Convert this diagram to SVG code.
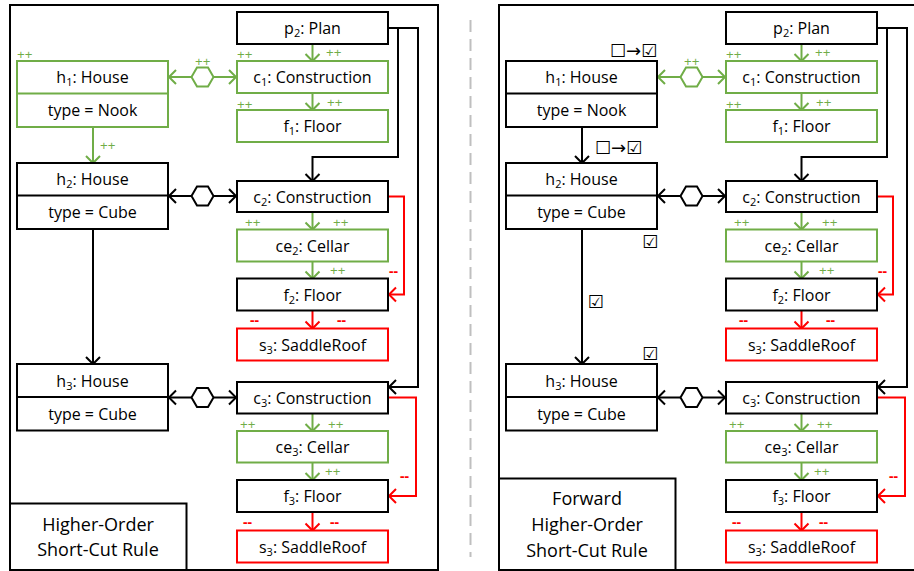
<svg xmlns="http://www.w3.org/2000/svg" width="914" height="571" viewBox="0 0 914 571">
<style>
.frame{fill:#fff;stroke:#000;stroke-width:2}
.bx{fill:#fff;stroke:#000;stroke-width:2}
.bx.g{stroke:#70AD47}
.bx.r{stroke:#FF0000}
.ln{fill:none;stroke:#000;stroke-width:2}
.ln.g{stroke:#70AD47}
.ln.r{stroke:#FF0000}
.hex{fill:#fff;stroke:#000;stroke-width:2}
.hex.g{stroke:#70AD47}
.t{font-family:'Open Sans','Liberation Sans',sans-serif;font-size:16px;fill:#000;text-anchor:middle}
.sub{font-size:11px}
.ttl{font-family:'Open Sans','Liberation Sans',sans-serif;font-size:18px;fill:#000;text-anchor:middle}
.pp{font-family:'Open Sans','Liberation Sans',sans-serif;font-size:13.5px;fill:#70AD47}
.mm{font-family:'Open Sans','Liberation Sans',sans-serif;font-size:14px;font-weight:bold;fill:#FF0000}
.cb{font-family:'DejaVu Sans',sans-serif;font-size:18px;fill:#000;text-anchor:middle}
.sep{stroke:#BFBFBF;stroke-width:2;stroke-dasharray:12 7}
</style>
<defs>
<marker id="ak" viewBox="-9 -9 11 18" markerWidth="11" markerHeight="18" refX="0" refY="0" orient="auto-start-reverse" markerUnits="userSpaceOnUse"><path d="M-7,-7 L0,0 L-7,7" fill="none" stroke="#000" stroke-width="2"/></marker>
<marker id="ag" viewBox="-9 -9 11 18" markerWidth="11" markerHeight="18" refX="0" refY="0" orient="auto-start-reverse" markerUnits="userSpaceOnUse"><path d="M-7,-7 L0,0 L-7,7" fill="none" stroke="#70AD47" stroke-width="2"/></marker>
<marker id="ar" viewBox="-9 -9 11 18" markerWidth="11" markerHeight="18" refX="0" refY="0" orient="auto-start-reverse" markerUnits="userSpaceOnUse"><path d="M-7,-7 L0,0 L-7,7" fill="none" stroke="#FF0000" stroke-width="2"/></marker>
<polygon id="hx" points="-11,0 -5.5,-9.5 5.5,-9.5 11,0 5.5,9.5 -5.5,9.5"/>
</defs>

<rect class="frame" x="10" y="5" width="428" height="565"/>
<rect class="frame" x="499" y="5" width="430" height="565"/>
<line class="sep" x1="470.5" y1="20" x2="470.5" y2="557"/>

<!-- ===== LEFT PANEL ===== -->
<g id="left-connectors">
  <path class="ln g" d="M312.5,44 V61" marker-end="url(#ag)"/>
  <path class="ln g" d="M312.5,93 V110" marker-end="url(#ag)"/>
  <path class="ln" d="M388,28 H398 V157 H312.5 V181" marker-end="url(#ak)"/>
  <path class="ln" d="M388,28 H418 V387 H389" marker-end="url(#ak)"/>
  <path class="ln g" d="M312.5,212 V229.5" marker-end="url(#ag)"/>
  <path class="ln g" d="M312.5,261.5 V278.5" marker-end="url(#ag)"/>
  <path class="ln r" d="M388,196.5 H404 V294.5 H389" marker-end="url(#ar)"/>
  <path class="ln r" d="M312.5,310.5 V328.5" marker-end="url(#ar)"/>
  <path class="ln g" d="M312.5,413.5 V431" marker-end="url(#ag)"/>
  <path class="ln g" d="M312.5,462.5 V480" marker-end="url(#ag)"/>
  <path class="ln r" d="M388,397.5 H416 V496 H389" marker-end="url(#ar)"/>
  <path class="ln r" d="M312.5,512 V530.5" marker-end="url(#ar)"/>
  <path class="ln g" d="M93,127 V163" marker-end="url(#ag)"/>
  <path class="ln" d="M93,229 V364" marker-end="url(#ak)"/>
  <path class="ln g" d="M169,77 H236" marker-start="url(#ag)" marker-end="url(#ag)"/>
  <use href="#hx" class="hex g" x="202.5" y="77"/>
  <path class="ln" d="M169,196 H236" marker-start="url(#ak)" marker-end="url(#ak)"/>
  <use href="#hx" class="hex" x="202.5" y="196"/>
  <path class="ln" d="M169,397.5 H236" marker-start="url(#ak)" marker-end="url(#ak)"/>
  <use href="#hx" class="hex" x="202.5" y="397.5"/>
  <text class="pp" x="17" y="58.5">++</text>
  <text class="pp" x="195" y="66">++</text>
  <text class="pp" x="237" y="58.5">++</text>
  <text class="pp" x="326" y="56.5">++</text>
  <text class="pp" x="237" y="108.5">++</text>
  <text class="pp" x="327" y="106.5">++</text>
  <text class="pp" x="100" y="150">++</text>
  <text class="pp" x="245" y="227">++</text>
  <text class="pp" x="333" y="227">++</text>
  <text class="pp" x="330" y="274.5">++</text>
  <text class="mm" x="389" y="276">--</text>
  <text class="mm" x="250" y="324.5">--</text>
  <text class="mm" x="337" y="324.5">--</text>
  <text class="pp" x="240" y="428.5">++</text>
  <text class="pp" x="328" y="428.5">++</text>
  <text class="pp" x="325" y="475.5">++</text>
  <text class="mm" x="400" y="481">--</text>
  <text class="mm" x="243" y="527">--</text>
  <text class="mm" x="330" y="527">--</text>
</g>

<g id="L-p2"><rect class="bx" x="237" y="12" width="151" height="32"/><text class="t" x="312.5" y="34">p<tspan class="sub" dy="3">2</tspan><tspan dy="-3">: Plan</tspan></text></g>
<g id="L-c1"><rect class="bx g" x="237" y="61" width="151" height="32"/><text class="t" x="312.5" y="83">c<tspan class="sub" dy="3">1</tspan><tspan dy="-3">: Construction</tspan></text></g>
<g id="L-f1"><rect class="bx g" x="237" y="110" width="151" height="32"/><text class="t" x="312.5" y="132">f<tspan class="sub" dy="3">1</tspan><tspan dy="-3">: Floor</tspan></text></g>
<g id="L-h1"><rect class="bx g" x="17" y="61" width="151" height="66"/><line class="ln g" x1="17" y1="93.5" x2="168" y2="93.5"/><text class="t" x="92.5" y="83">h<tspan class="sub" dy="3">1</tspan><tspan dy="-3">: House</tspan></text><text class="t" x="92.5" y="116">type = Nook</text></g>
<g id="L-h2"><rect class="bx" x="17" y="163" width="151" height="66"/><line class="ln" x1="17" y1="195.5" x2="168" y2="195.5"/><text class="t" x="92.5" y="185">h<tspan class="sub" dy="3">2</tspan><tspan dy="-3">: House</tspan></text><text class="t" x="92.5" y="218">type = Cube</text></g>
<g id="L-h3"><rect class="bx" x="17" y="364" width="151" height="66.5"/><line class="ln" x1="17" y1="397" x2="168" y2="397"/><text class="t" x="92.5" y="386.5">h<tspan class="sub" dy="3">3</tspan><tspan dy="-3">: House</tspan></text><text class="t" x="92.5" y="419.5">type = Cube</text></g>
<g id="L-c2"><rect class="bx" x="237" y="181" width="151" height="31"/><text class="t" x="312.5" y="202.5">c<tspan class="sub" dy="3">2</tspan><tspan dy="-3">: Construction</tspan></text></g>
<g id="L-ce2"><rect class="bx g" x="237" y="229.5" width="151" height="32"/><text class="t" x="312.5" y="251.5">ce<tspan class="sub" dy="3">2</tspan><tspan dy="-3">: Cellar</tspan></text></g>
<g id="L-f2"><rect class="bx" x="237" y="278.5" width="151" height="32"/><text class="t" x="312.5" y="300.5">f<tspan class="sub" dy="3">2</tspan><tspan dy="-3">: Floor</tspan></text></g>
<g id="L-s3a"><rect class="bx r" x="237" y="328.5" width="151" height="32"/><text class="t" x="312.5" y="350.5">s<tspan class="sub" dy="3">3</tspan><tspan dy="-3">: SaddleRoof</tspan></text></g>
<g id="L-c3"><rect class="bx" x="237" y="382" width="151" height="31.5"/><text class="t" x="312.5" y="404">c<tspan class="sub" dy="3">3</tspan><tspan dy="-3">: Construction</tspan></text></g>
<g id="L-ce3"><rect class="bx g" x="237" y="431" width="151" height="31.5"/><text class="t" x="312.5" y="453">ce<tspan class="sub" dy="3">3</tspan><tspan dy="-3">: Cellar</tspan></text></g>
<g id="L-f3"><rect class="bx" x="237" y="480" width="151" height="32"/><text class="t" x="312.5" y="502">f<tspan class="sub" dy="3">3</tspan><tspan dy="-3">: Floor</tspan></text></g>
<g id="L-s3b"><rect class="bx r" x="237" y="530.5" width="151" height="32"/><text class="t" x="312.5" y="552.5">s<tspan class="sub" dy="3">3</tspan><tspan dy="-3">: SaddleRoof</tspan></text></g>
<g id="L-title"><rect class="bx" x="10" y="503.5" width="176.5" height="66.5"/><text class="ttl" x="98" y="531">Higher-Order</text><text class="ttl" x="98" y="556">Short-Cut Rule</text></g>

<!-- ===== RIGHT PANEL ===== -->
<g transform="translate(489,0)">
<g id="right-connectors">
  <path class="ln g" d="M312.5,44 V61" marker-end="url(#ag)"/>
  <path class="ln g" d="M312.5,93 V110" marker-end="url(#ag)"/>
  <path class="ln" d="M388,28 H398 V157 H312.5 V181" marker-end="url(#ak)"/>
  <path class="ln" d="M388,28 H418 V387 H389" marker-end="url(#ak)"/>
  <path class="ln g" d="M312.5,212 V229.5" marker-end="url(#ag)"/>
  <path class="ln g" d="M312.5,261.5 V278.5" marker-end="url(#ag)"/>
  <path class="ln r" d="M388,196.5 H404 V294.5 H389" marker-end="url(#ar)"/>
  <path class="ln r" d="M312.5,310.5 V328.5" marker-end="url(#ar)"/>
  <path class="ln g" d="M312.5,413.5 V431" marker-end="url(#ag)"/>
  <path class="ln g" d="M312.5,462.5 V480" marker-end="url(#ag)"/>
  <path class="ln r" d="M388,397.5 H416 V496 H389" marker-end="url(#ar)"/>
  <path class="ln r" d="M312.5,512 V530.5" marker-end="url(#ar)"/>
  <path class="ln" d="M93,127 V163" marker-end="url(#ak)"/>
  <path class="ln" d="M93,229 V364" marker-end="url(#ak)"/>
  <path class="ln g" d="M169,77 H236" marker-start="url(#ag)" marker-end="url(#ag)"/>
  <use href="#hx" class="hex g" x="202.5" y="77"/>
  <path class="ln" d="M169,196 H236" marker-start="url(#ak)" marker-end="url(#ak)"/>
  <use href="#hx" class="hex" x="202.5" y="196"/>
  <path class="ln" d="M169,397.5 H236" marker-start="url(#ak)" marker-end="url(#ak)"/>
  <use href="#hx" class="hex" x="202.5" y="397.5"/>
  <text class="pp" x="195" y="66">++</text>
  <text class="pp" x="237" y="58.5">++</text>
  <text class="pp" x="326" y="56.5">++</text>
  <text class="pp" x="237" y="108.5">++</text>
  <text class="pp" x="327" y="106.5">++</text>
  <text class="pp" x="245" y="227">++</text>
  <text class="pp" x="333" y="227">++</text>
  <text class="pp" x="330" y="274.5">++</text>
  <text class="mm" x="389" y="276">--</text>
  <text class="mm" x="250" y="324.5">--</text>
  <text class="mm" x="337" y="324.5">--</text>
  <text class="pp" x="240" y="428.5">++</text>
  <text class="pp" x="328" y="428.5">++</text>
  <text class="pp" x="325" y="475.5">++</text>
  <text class="mm" x="400" y="481">--</text>
  <text class="mm" x="243" y="527">--</text>
  <text class="mm" x="330" y="527">--</text>
  <text class="cb" x="144.5" y="56.5">☐→☑</text>
  <text class="cb" x="129.5" y="153.5">☐→☑</text>
  <text class="cb" x="161" y="247.5">☑</text>
  <text class="cb" x="106.5" y="308">☑</text>
  <text class="cb" x="161" y="360">☑</text>
</g>

<g id="R-p2"><rect class="bx" x="237" y="12" width="151" height="32"/><text class="t" x="312.5" y="34">p<tspan class="sub" dy="3">2</tspan><tspan dy="-3">: Plan</tspan></text></g>
<g id="R-c1"><rect class="bx g" x="237" y="61" width="151" height="32"/><text class="t" x="312.5" y="83">c<tspan class="sub" dy="3">1</tspan><tspan dy="-3">: Construction</tspan></text></g>
<g id="R-f1"><rect class="bx g" x="237" y="110" width="151" height="32"/><text class="t" x="312.5" y="132">f<tspan class="sub" dy="3">1</tspan><tspan dy="-3">: Floor</tspan></text></g>
<g id="R-h1"><rect class="bx" x="17" y="61" width="151" height="66"/><line class="ln" x1="17" y1="93.5" x2="168" y2="93.5"/><text class="t" x="92.5" y="83">h<tspan class="sub" dy="3">1</tspan><tspan dy="-3">: House</tspan></text><text class="t" x="92.5" y="116">type = Nook</text></g>
<g id="R-h2"><rect class="bx" x="17" y="163" width="151" height="66"/><line class="ln" x1="17" y1="195.5" x2="168" y2="195.5"/><text class="t" x="92.5" y="185">h<tspan class="sub" dy="3">2</tspan><tspan dy="-3">: House</tspan></text><text class="t" x="92.5" y="218">type = Cube</text></g>
<g id="R-h3"><rect class="bx" x="17" y="364" width="151" height="66.5"/><line class="ln" x1="17" y1="397" x2="168" y2="397"/><text class="t" x="92.5" y="386.5">h<tspan class="sub" dy="3">3</tspan><tspan dy="-3">: House</tspan></text><text class="t" x="92.5" y="419.5">type = Cube</text></g>
<g id="R-c2"><rect class="bx" x="237" y="181" width="151" height="31"/><text class="t" x="312.5" y="202.5">c<tspan class="sub" dy="3">2</tspan><tspan dy="-3">: Construction</tspan></text></g>
<g id="R-ce2"><rect class="bx g" x="237" y="229.5" width="151" height="32"/><text class="t" x="312.5" y="251.5">ce<tspan class="sub" dy="3">2</tspan><tspan dy="-3">: Cellar</tspan></text></g>
<g id="R-f2"><rect class="bx" x="237" y="278.5" width="151" height="32"/><text class="t" x="312.5" y="300.5">f<tspan class="sub" dy="3">2</tspan><tspan dy="-3">: Floor</tspan></text></g>
<g id="R-s3a"><rect class="bx r" x="237" y="328.5" width="151" height="32"/><text class="t" x="312.5" y="350.5">s<tspan class="sub" dy="3">3</tspan><tspan dy="-3">: SaddleRoof</tspan></text></g>
<g id="R-c3"><rect class="bx" x="237" y="382" width="151" height="31.5"/><text class="t" x="312.5" y="404">c<tspan class="sub" dy="3">3</tspan><tspan dy="-3">: Construction</tspan></text></g>
<g id="R-ce3"><rect class="bx g" x="237" y="431" width="151" height="31.5"/><text class="t" x="312.5" y="453">ce<tspan class="sub" dy="3">3</tspan><tspan dy="-3">: Cellar</tspan></text></g>
<g id="R-f3"><rect class="bx" x="237" y="480" width="151" height="32"/><text class="t" x="312.5" y="502">f<tspan class="sub" dy="3">3</tspan><tspan dy="-3">: Floor</tspan></text></g>
<g id="R-s3b"><rect class="bx r" x="237" y="530.5" width="151" height="32"/><text class="t" x="312.5" y="552.5">s<tspan class="sub" dy="3">3</tspan><tspan dy="-3">: SaddleRoof</tspan></text></g>
<g id="R-title"><rect class="bx" x="10" y="478.5" width="176.5" height="91.5"/><text class="ttl" x="98" y="504.5">Forward</text><text class="ttl" x="98" y="531">Higher-Order</text><text class="ttl" x="98" y="556.5">Short-Cut Rule</text></g>
</g>
</svg>
